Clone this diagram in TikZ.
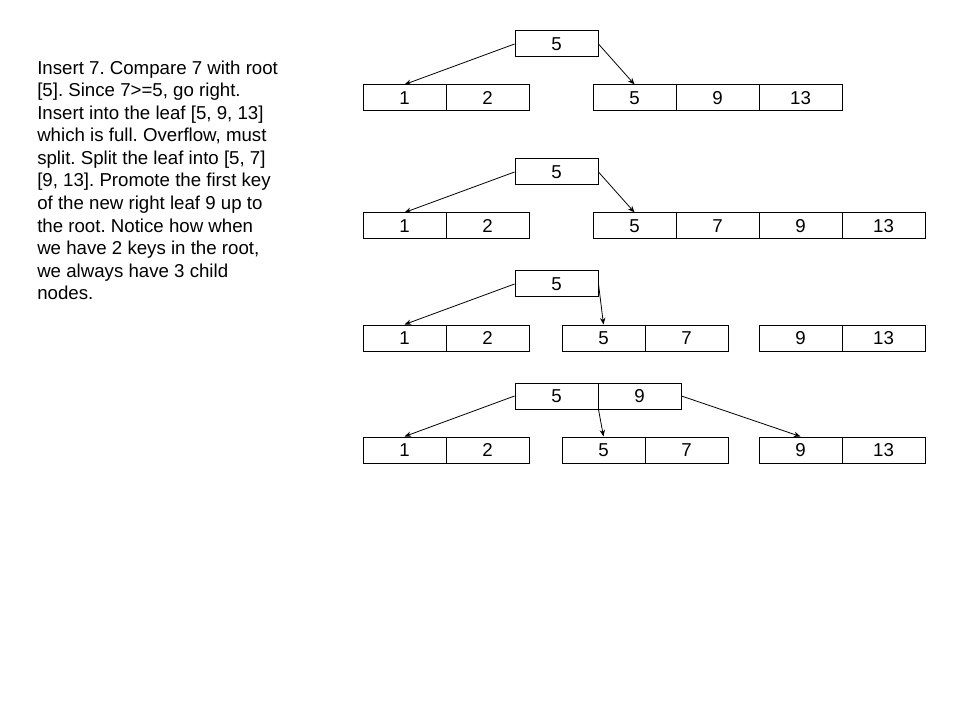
\documentclass[tikz,border=0pt]{standalone}
\usepackage{fontspec}
\setmainfont{Liberation Sans}
\usetikzlibrary{arrows.meta}
\frenchspacing
\begin{document}
\begin{tikzpicture}[x=0.75pt,y=-0.75pt,
  cell/.style={draw=black,line width=0.75pt,minimum width=62.25pt,minimum height=19.5pt,inner sep=0pt,font=\fontsize{14pt}{16pt}\selectfont},
  link/.style={draw=black,line width=0.6pt,-{Stealth[length=5pt,width=4pt]}},
  desc/.style={align=left,inner sep=0pt,font=\fontsize{14pt}{16.875pt}\selectfont}]
\useasboundingbox (0,0) rectangle (960,720);
\node[desc,anchor=base west] (txt) at (37,299.5) {Insert 7. Compare 7 with root\\\relax [5]. Since 7>=5, go right.\\Insert into the leaf [5, 9, 13]\\which is full. Overflow, must\\split. Split the leaf into [5, 7]\\\relax [9, 13]. Promote the first key\\of the new right leaf 9 up to\\the root. Notice how when\\we have 2 keys in the root,\\we always have 3 child\\nodes.};
% Row 1
\node[cell] (r1) at (556.5,44) {5};
\node[cell] (a1) at (404.5,98) {1};
\node[cell] (a2) at (487.5,98) {2};
\node[cell] (b1) at (634.5,98) {5};
\node[cell] (b2) at (717.5,98) {9};
\node[cell] (b3) at (800.5,98) {13};
\draw[link] (r1.west) -- (a1.north);
\draw[link] (r1.east) -- (b1.north);
% Row 2
\node[cell] (r2) at (556.5,172) {5};
\node[cell] (c1) at (404.5,226) {1};
\node[cell] (c2) at (487.5,226) {2};
\node[cell] (d1) at (634.5,226) {5};
\node[cell] (d2) at (717.5,226) {7};
\node[cell] (d3) at (800.5,226) {9};
\node[cell] (d4) at (883.5,226) {13};
\draw[link] (r2.west) -- (c1.north);
\draw[link] (r2.east) -- (d1.north);
% Row 3
\node[cell] (r3) at (556.5,284) {5};
\node[cell] (e1) at (404.5,338) {1};
\node[cell] (e2) at (487.5,338) {2};
\node[cell] (f1) at (603.5,338) {5};
\node[cell] (f2) at (686.5,338) {7};
\node[cell] (g1) at (800.5,338) {9};
\node[cell] (g2) at (883.5,338) {13};
\draw[link] (r3.west) -- (e1.north);
\draw[link] (r3.east) -- (f1.north);
% Row 4
\node[cell] (s1) at (556.5,396) {5};
\node[cell] (s2) at (639.5,396) {9};
\node[cell] (h1) at (404.5,450) {1};
\node[cell] (h2) at (487.5,450) {2};
\node[cell] (i1) at (603.5,450) {5};
\node[cell] (i2) at (686.5,450) {7};
\node[cell] (j1) at (800.5,450) {9};
\node[cell] (j2) at (883.5,450) {13};
\draw[link] (s1.west) -- (h1.north);
\draw[link] (s1.south east) -- (i1.north);
\draw[link] (s2.east) -- (j1.north);
\end{tikzpicture}
\end{document}
